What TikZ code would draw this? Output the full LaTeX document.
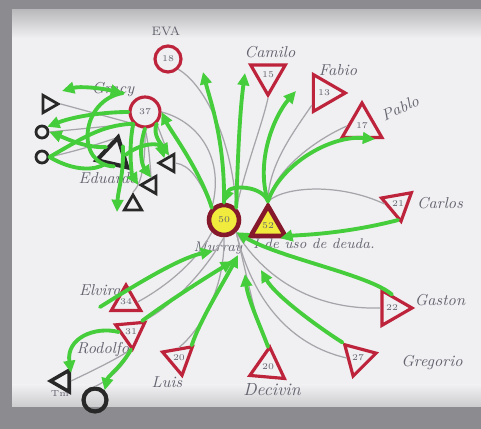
\documentclass[tikz,border=0pt]{standalone}
\usepackage{tikz}
\usetikzlibrary{arrows.meta, shapes.geometric, positioning, calc}
\definecolor{penred}  {RGB}{190, 35,  60}
\definecolor{pengreen}{RGB}{70,  205, 60}
\definecolor{pengray} {RGB}{165, 165, 170}
\definecolor{penink}  {RGB}{40,  40,  40}
\definecolor{hilite}  {RGB}{240, 235, 60}
\definecolor{paper}   {RGB}{240, 240, 242}
\definecolor{rim}     {RGB}{140, 140, 144}
\definecolor{pencil}  {RGB}{100, 100, 112}

\begin{document}
\begin{tikzpicture}[x=0.02cm,y=-0.02cm,
	fem/.style={circle,draw=penred,line width=1.8pt,minimum size=0.52cm,inner sep=0pt,font=\tiny,text=pencil},
	mal/.style={regular polygon,regular polygon sides=3,draw=penred,line width=1.8pt,minimum size=0.8cm,inner sep=0pt,font=\tiny,text=pencil},
	kidtri/.style={regular polygon,regular polygon sides=3,draw=penink,line width=1.6pt,minimum size=0.4cm,inner sep=0pt},
	kidcirc/.style={circle,draw=penink,line width=1.6pt,minimum size=0.24cm,inner sep=0pt},
	focus/.style={fill=hilite,draw=penred!70!black,line width=2.6pt},
	tie/.style={draw=pengray,line width=0.7pt},
	bond/.style={draw=pengreen,line width=2.2pt,line cap=round},
	flow/.style={bond,-{Triangle[length=7pt,width=6.5pt]}},
	twoway/.style={bond,{Triangle[length=7pt,width=6.5pt]}-{Triangle[length=7pt,width=6.5pt]}},
	who/.style={font=\small\itshape,text=pencil,inner sep=1pt}
]
	\fill[rim] (0,0) rectangle (481,429);
	\fill[paper] (12,10) rectangle (481,407);
	\shade[top color=rim!60!white, bottom color=paper] (12,10) rectangle (481,38);
	\shade[top color=paper, bottom color=rim!45!white] (12,385) rectangle (481,407);
	\useasboundingbox (0,0) rectangle (481,429);

	\node[fem,focus,minimum size=0.6cm] (murray) at (224,220) {50};
	\node[mal,focus,minimum size=0.8cm] (partner) at (268,226) {52};
	\node[fem] (eva) at (168,59) {18};
	\node[fem,minimum size=0.6cm] (gracy) at (145,112) {37};
	\node[mal,shape border rotate=180] (camilo) at (268,75) {15};
	\node[mal,shape border rotate=-90,minimum size=0.85cm] (fabio) at (324,93) {13};
	\node[mal,minimum size=0.92cm] (pablo) at (362,126) {17};
	\node[mal,shape border rotate=190,minimum size=0.7cm] (carlos) at (398,204) {21};
	\node[mal,shape border rotate=-90] (gaston) at (392,308) {22};
	\node[mal,shape border rotate=45,minimum size=0.75cm] (gregorio) at (358,358) {27};
	\node[mal,shape border rotate=-5] (decivin) at (268,367) {20};
	\node[mal,shape border rotate=190,minimum size=0.7cm] (luis) at (179,358) {20};
	\node[mal,minimum size=0.66cm] (elvira) at (126,302) {34};
	\node[mal,shape border rotate=185,minimum size=0.62cm] (rodolfo) at (131,332) {31};

	\node[kidtri,shape border rotate=-90] (toptri) at (48,104) {};
	\node[kidcirc] (girlA) at (42,132) {};
	\node[kidcirc] (girlB) at (42,157) {};
	\node[kidtri,shape border rotate=-13,minimum size=0.72cm,line width=2.4pt] (eduardo) at (114,155) {};
	\node[kidtri,shape border rotate=90] (sonA) at (169,163) {};
	\node[kidtri,shape border rotate=90] (sonB) at (151,185) {};
	\node[kidtri] (sonC) at (133,205) {};
	\node[kidtri,shape border rotate=90,minimum size=0.5cm,line width=2pt] (grandson) at (63,381) {};
	\node[kidcirc,minimum size=0.46cm,line width=2.4pt] (granddaughter) at (95,400) {};

	\node[who,font=\scriptsize] (evatag) at (166,31) {EVA};
	\node[who] (camilotag) at (270,52) {Camilo};
	\node[who] (fabiotag) at (338,70) {Fabio};
	\node[who,rotate=25] (pablotag) at (400,108) {Pablo};
	\node[who] (carlostag) at (440,203) {Carlos};
	\node[who] (gastontag) at (440,300) {Gaston};
	\node[who] (gregoriotag) at (432,363) {Gregorio};
	\node[who,font=\normalsize\itshape] (decivintag) at (272,390) {Decivin};
	\node[who] (luistag) at (167,382) {Luis};
	\node[who] (elviratag) at (100,290) {Elvira};
	\node[who] (rodolfotag) at (103,350) {Rodolfo};
	\node[who,font=\tiny] (tmtag) at (60,394) {Tm};
	\node[who] (gracytag) at (113,90) {Gracy};
	\node[who] (eduardotag) at (108,178) {Eduardo};
	\node[who,font=\footnotesize\itshape] (murraytag) at (218,248) {Murray};
	\node[who,font=\footnotesize\itshape] (notetag) at (314,244) {I de uso de deuda.};

	\coordinate (tipA) at (203,72);
	\coordinate (tipB) at (245,73);
	\coordinate (tipC) at (296,91);
	\coordinate (tipG) at (261,270);
	\coordinate (tipD) at (245,274);
	\coordinate (tipL) at (238,255);
	\coordinate (tipE) at (213,251);
	\coordinate (tipR) at (233,261);
	\coordinate (tailE) at (100,307);
	\coordinate (leftA) at (62,91);
	\coordinate (leftB) at (123,93);
	\coordinate (leftC) at (117,212);

	\draw[tie] (murray.north east) .. controls (232,140) and (205,85) .. (eva.south east);
	\draw[tie] (murray.north east) .. controls (248,160) and (262,125) .. (camilo.south);
	\draw[tie] (partner.north) .. controls (268,165) and (295,130) .. (fabio.south west);
	\draw[tie] (partner.north) .. controls (275,170) and (315,140) .. (pablo.west);
	\draw[tie] (partner.north) .. controls (285,186) and (340,183) .. (carlos.west);
	\draw[tie] (murray.south east) .. controls (262,275) and (310,310) .. (gaston.west);
	\draw[tie] (murray.south east) .. controls (252,300) and (290,345) .. (gregorio.west);
	\draw[tie] (murray.south east) .. controls (250,290) and (258,330) .. (decivin.north);
	\draw[tie] (murray.south) .. controls (225,290) and (200,330) .. (luis.north);
	\draw[tie] (murray.south) .. controls (200,280) and (160,315) .. (rodolfo.north east);
	\draw[tie] (murray.south west) .. controls (195,265) and (160,290) .. (elvira.east);
	\draw[tie] (murray.north west) .. controls (225,160) and (200,122) .. (gracy.east);
	\draw[tie] (murray.north west) .. controls (200,180) and (190,165) .. (sonA.east);
	\draw[tie] (toptri.east) -- (gracy.south west);
	\draw[tie] (girlA.east) -- (gracy.south west);
	\draw[tie] (girlB.east) .. controls (80,150) and (95,145) .. (eduardo.north);
	\draw[tie] (gracy.south) .. controls (145,150) and (145,180) .. (sonC.north);
	\draw[tie] (gracy.south) .. controls (148,140) and (150,160) .. (sonB.north);
	\draw[tie] (gracy.south east) -- (sonA.north);
	\draw[tie] (rodolfo.south) .. controls (115,360) and (90,372) .. (grandson.east);
	\draw[tie] (rodolfo.south) .. controls (125,365) and (110,380) .. (granddaughter.north);

	\draw[flow] (murray.north) .. controls (225,140) and (210,100) .. (tipA);
	\draw[flow] (murray.north east) .. controls (238,150) and (240,110) .. (tipB);
	\draw[flow] (partner.north) .. controls (255,160) and (275,115) .. (tipC);
	\draw[flow] (partner.north) .. controls (280,165) and (330,135) .. (pablo.south east);
	\draw[flow] (murray.north west) .. controls (200,170) and (170,130) .. (gracy.east);
	\draw[flow] (partner.north) .. controls (262,185) and (230,185) .. (murray.north);
	\draw[flow] (carlos.south) .. controls (340,235) and (295,235) .. (partner.south east);
	\draw[flow] (gaston.north) .. controls (370,275) and (280,258) .. (murray.south east);
	\draw[flow] (gregorio.north west) .. controls (315,325) and (275,295) .. (tipG);
	\draw[flow] (decivin.north) .. controls (262,330) and (248,300) .. (tipD);
	\draw[flow] (luis.north east) .. controls (200,320) and (225,280) .. (tipL);
	\draw[flow] (tailE) .. controls (140,282) and (180,258) .. (tipE);
	\draw[flow] (rodolfo.north east) .. controls (170,300) and (210,275) .. (tipR);
	\draw[flow] (rodolfo.west) .. controls (95,326) and (66,338) .. (grandson.north east);
	\draw[flow] (rodolfo.south) .. controls (122,366) and (108,376) .. (granddaughter.north east);

	\draw[twoway] (leftB) .. controls (100,88) and (80,86) .. (leftA);
	\draw[flow] (gracy.west) .. controls (105,112) and (75,116) .. (girlA.north east);
	\draw[flow] (eduardo.north west) .. controls (85,148) and (65,138) .. (girlA.east);
	\draw[bond] (girlB.east) .. controls (80,140) and (100,125) .. (gracy.south west);
	\draw[bond] (girlB.east) .. controls (75,172) and (95,170) .. (eduardo.south west);
	\draw[bond] (leftB) .. controls (80,100) and (75,165) .. (eduardo.south);
	\draw[flow] (gracy.south) .. controls (138,150) and (142,165) .. (sonB.north);
	\draw[flow] (eduardo.east) .. controls (140,143) and (160,142) .. (sonA.north west);
	\draw[flow] (gracy.south east) .. controls (152,135) and (162,145) .. (sonA.north);
	\draw[flow] (eduardo.north east) .. controls (124,175) and (118,190) .. (leftC);
	\draw[flow] (gracy.south west) .. controls (128,150) and (132,175) .. (sonB.west);
\end{tikzpicture}
\end{document}
